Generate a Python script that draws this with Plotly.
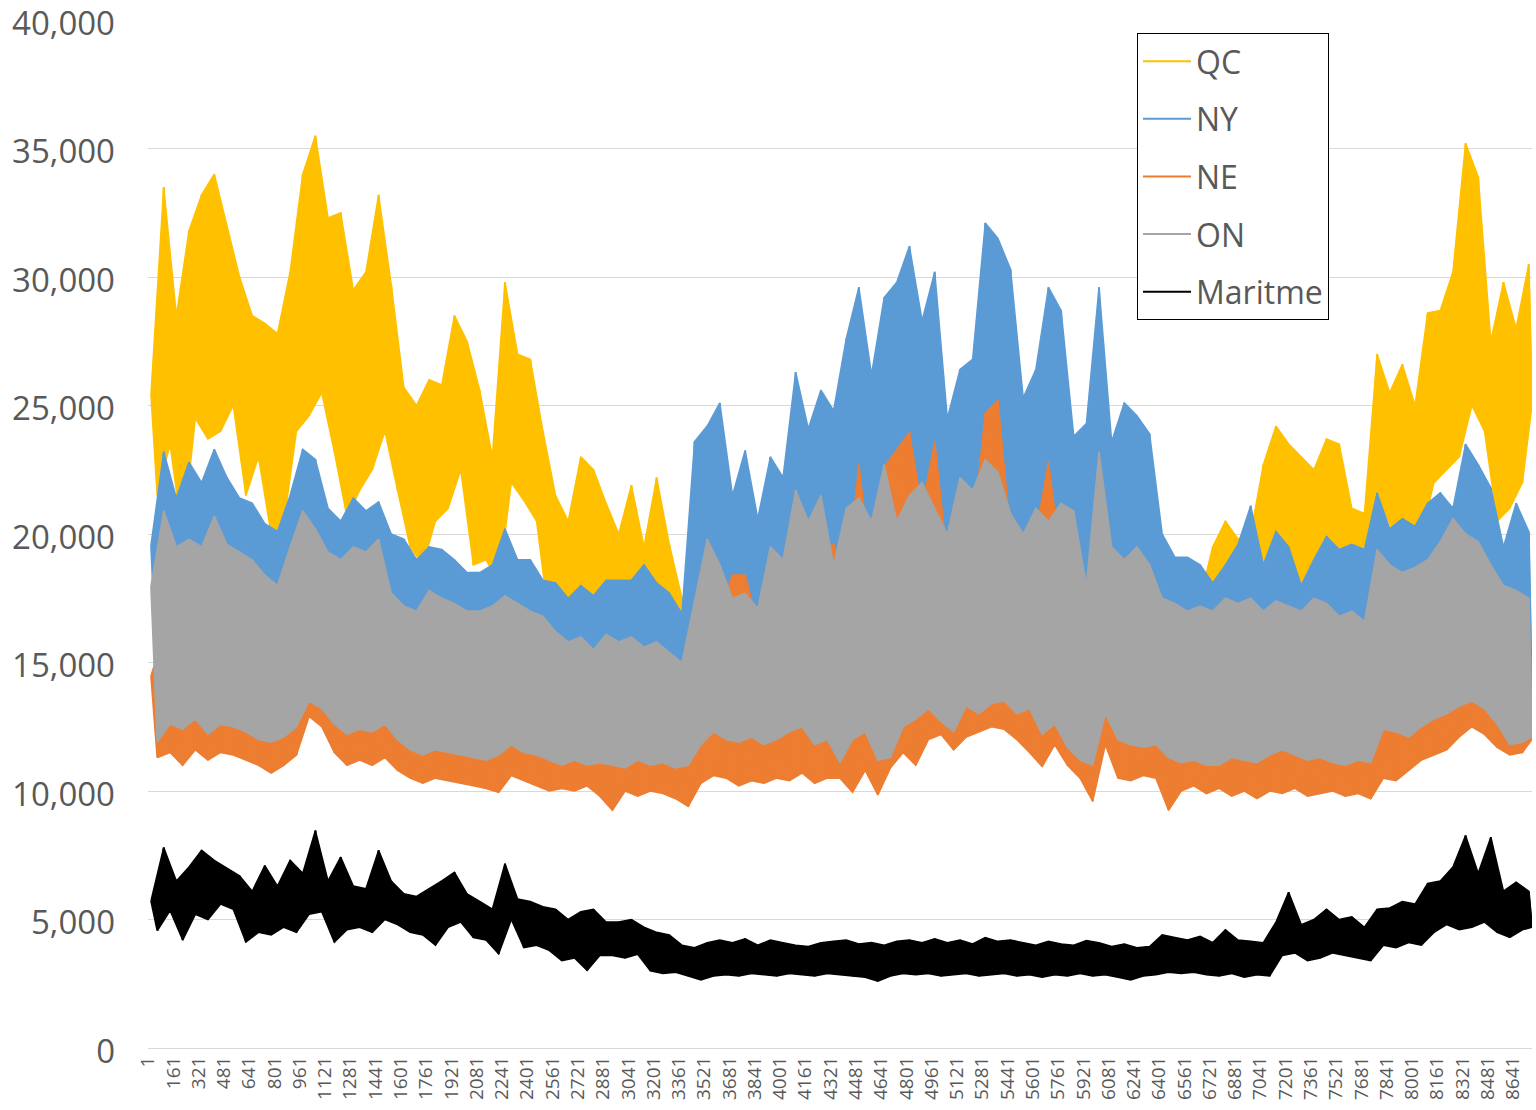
import plotly.graph_objects as go

# ---------------- data (80-hour blocks: block high / block low) ----------------
HOURS = 8760
BLOCK = 80

tick_labels = ["1", "161", "321", "481", "641", "801", "961", "1121", "1281", "1441", "1601", "1761",
               "1921", "2081", "2241", "2401", "2561", "2721", "2881", "3041", "3201", "3361", "3521",
               "3681", "3841", "4001", "4161", "4321", "4481", "4641", "4801", "4961", "5121", "5281",
               "5441", "5601", "5761", "5921", "6081", "6241", "6401", "6561", "6721", "6881", "7041",
               "7201", "7361", "7521", "7681", "7841", "8001", "8161", "8321", "8481", "8641"]
y_tick_vals = [0, 5000, 10000, 15000, 20000, 25000, 30000, 35000, 40000]

series_names = ["QC", "NY", "NE", "ON", "Maritme"]
series_colors = ["#FFC000", "#5B9BD5", "#ED7D31", "#A5A5A5", "#000000"]

QC_HI = [25500, 33500, 28500, 31800, 33200, 34000, 32000, 30000, 28500, 28200,
         27800, 30200, 34000, 35500, 32300, 32500, 29500, 30200, 33200, 29700,
         25700, 25000, 26000, 25800, 28500, 27500, 25600, 23000, 29800, 27000,
         26800, 24000, 21500, 20500, 23000, 22500, 21200, 20000, 21900, 19500,
         22200, 19600, 17500, 18000, 18500, 18300, 18000, 18200, 17800, 18000,
         18300, 18600, 18200, 18500, 18000, 18500, 19000, 18500, 19000, 19200,
         19500, 19300, 19000, 18800, 19200, 19000, 19500, 19300, 19000, 18800,
         18500, 19000, 18700, 18200, 18000, 19000, 18500, 18000, 18300, 18000,
         17500, 17800, 17600, 17500, 19500, 20500, 19800, 20000, 22700, 24200,
         23500, 23000, 22500, 23700, 23500, 21000, 20800, 27000, 25500, 26600,
         25000, 28600, 28700, 30200, 35200, 33900, 27500, 29800, 28000, 30500]
QC_LO = [21500, 23500, 19900, 24500, 23700, 24000, 25000, 21500, 23000, 20000,
         20400, 24000, 24600, 25500, 23200, 20650, 21700, 22500, 24000, 21700,
         19500, 18800, 20500, 21000, 22500, 18800, 19000, 18100, 22000, 21300,
         20500, 16600, 17500, 16500, 17500, 16100, 16500, 16000, 17000, 15500,
         17000, 15500, 15000, 14800, 15000, 14600, 14900, 15000, 14700, 14800,
         15100, 15300, 14900, 15000, 14500, 14600, 15200, 14700, 14500, 15000,
         15300, 15500, 15200, 15000, 15600, 15400, 15800, 15700, 15300, 15100,
         14800, 15000, 14500, 14400, 14300, 15200, 14800, 14600, 14500, 14700,
         14400, 14600, 14500, 14800, 15000, 15500, 16000, 16000, 17000, 18500,
         18000, 17500, 17500, 17800, 18000, 17500, 17400, 21000, 19800, 20500,
         20000, 22000, 22500, 23000, 25000, 24000, 20500, 21000, 22000, 25000]

NY_HI = [19600, 23200, 21400, 22800, 22000, 23300, 22200, 21400, 21200, 20400,
         20100, 21500, 23300, 22900, 21000, 20500, 21400, 20900, 21250, 20000,
         19800, 19000, 19500, 19400, 19000, 18500, 18500, 18800, 20200, 19000,
         19000, 18200, 18100, 17500, 18000, 17600, 18200, 18200, 18200, 18800,
         18100, 17700, 16900, 23600, 24200, 25100, 21500, 23250, 20600, 23000,
         22200, 26300, 24100, 25600, 24800, 27600, 29600, 26200, 29200, 29800,
         31200, 28300, 30200, 24500, 26400, 26800, 32100, 31500, 30300, 25300,
         26400, 29600, 28700, 23800, 24300, 29600, 23600, 25100, 24600, 23900,
         20000, 19100, 19100, 18800, 18100, 18800, 19600, 21100, 18800, 20100,
         19500, 18000, 19000, 19900, 19400, 19600, 19400, 21600, 20200, 20600,
         20300, 21200, 21600, 21000, 23500, 22700, 21800, 19500, 21200, 20100]
NY_LO = [14000, 14500, 14000, 14500, 14200, 14600, 14300, 14000, 13800, 13600,
         13800, 14200, 15000, 14800, 14200, 13800, 14000, 13900, 14200, 13300,
         13000, 12800, 13000, 12900, 12800, 12700, 12600, 12800, 13200, 12900,
         12800, 12600, 12400, 12500, 12300, 12400, 12300, 12200, 12500, 12300,
         12400, 12200, 12000, 13500, 14000, 13800, 13600, 13900, 13500, 13800,
         14000, 14300, 13600, 13800, 13000, 14000, 14500, 13200, 13500, 14500,
         15000, 15300, 14800, 14300, 15400, 15000, 15500, 15600, 15000, 15200,
         14200, 14800, 13800, 13000, 12800, 15000, 14000, 13700, 13600, 13800,
         13000, 12800, 12900, 12700, 12600, 12900, 12800, 12700, 13000, 13200,
         13000, 12800, 12900, 12700, 12600, 12800, 12700, 14000, 13900, 13700,
         14100, 14400, 14600, 15000, 15200, 14900, 14200, 13400, 13500, 13700]

NE_HI = [14500, 16000, 15000, 15200, 15000, 15800, 15200, 15000, 14700, 14500,
         14300, 15200, 16300, 16000, 15000, 14800, 15200, 15100, 15600, 14000,
         13800, 13600, 14000, 13800, 13700, 13500, 13500, 13700, 14000, 13800,
         13600, 13400, 13200, 13000, 13200, 12900, 13100, 13000, 13200, 13000,
         13100, 12900, 12800, 15500, 18800, 17000, 18400, 18400, 16500, 17400,
         17000, 18000, 17500, 19600, 19600, 18000, 22700, 18500, 22600, 23300,
         23950, 21000, 23600, 19000, 21000, 20000, 24700, 25200, 20000, 18500,
         20000, 22800, 19000, 18200, 17500, 22700, 17500, 19100, 17500, 17000,
         15000, 14500, 14500, 14300, 14200, 14600, 14400, 14500, 14300, 14600,
         14400, 14200, 14500, 14300, 14000, 14200, 13900, 15800, 15500, 15300,
         15500, 16000, 16500, 17000, 17000, 16800, 16000, 15300, 15200, 15000]
NE_LO = [11300, 11500, 11000, 11600, 11200, 11500, 11400, 11200, 11000, 10700,
         11000, 11400, 12900, 12500, 11500, 11000, 11200, 11000, 11300, 10800,
         10500, 10300, 10500, 10400, 10300, 10200, 10100, 9950, 10600, 10400,
         10200, 10000, 10100, 10000, 10200, 9800, 9250, 10000, 9800, 10000,
         9900, 9700, 9400, 10300, 10600, 10500, 10200, 10400, 10300, 10500,
         10400, 10700, 10300, 10500, 10500, 9950, 10800, 9850, 10900, 11500,
         11000, 12000, 12200, 11600, 12100, 12300, 12500, 12400, 12000, 11500,
         10950, 11800, 11000, 10500, 9600, 11800, 10500, 10400, 10600, 10500,
         9250, 10000, 10200, 9900, 10100, 9800, 10000, 9700, 10000, 9900,
         10100, 9800, 9900, 10000, 9800, 9900, 9700, 10500, 10400, 10800,
         11200, 11400, 11600, 12100, 12500, 12200, 11700, 11400, 11500, 12000]

ON_HI = [18000, 20900, 19500, 19800, 19500, 20700, 19600, 19300, 19000, 18400,
         18000, 19500, 20900, 20200, 19300, 19000, 19500, 19300, 19800, 17700,
         17200, 17000, 17800, 17500, 17300, 17000, 17000, 17200, 17600, 17300,
         17000, 16800, 16200, 15800, 16000, 15500, 16100, 15800, 16000, 15600,
         15800, 15400, 15000, 17400, 19800, 18800, 17500, 17700, 17100, 19500,
         19000, 21700, 20500, 21500, 18800, 21000, 21400, 20500, 22700, 20500,
         21500, 22000, 21000, 20000, 22200, 21700, 22900, 22400, 20800, 20000,
         21000, 20500, 21200, 20900, 18000, 23200, 19500, 19000, 19500, 18800,
         17500, 17300, 17000, 17200, 17000, 17500, 17300, 17500, 17000, 17400,
         17200, 17000, 17500, 17300, 16800, 17000, 16600, 19400, 18800, 18500,
         18700, 19000, 19700, 20600, 20000, 19700, 18800, 18000, 17800, 17500]
ON_LO = [11900, 12600, 12400, 12800, 12200, 12600, 12500, 12300, 12000, 11900,
         12100, 12500, 13500, 13200, 12600, 12200, 12400, 12300, 12600, 12000,
         11600, 11400, 11600, 11500, 11400, 11300, 11200, 11400, 11800, 11500,
         11400, 11200, 11000, 11200, 11000, 11100, 11000, 10900, 11200, 11000,
         11100, 10900, 11000, 11800, 12300, 12000, 11900, 12100, 11800, 12000,
         12300, 12500, 11800, 12000, 11100, 12000, 12300, 11200, 11300, 12500,
         12800, 13200, 12700, 12300, 13300, 13000, 13400, 13500, 13000, 13200,
         12200, 12600, 11700, 11200, 11000, 13000, 12000, 11800, 11700, 11800,
         11300, 11100, 11200, 11000, 11000, 11300, 11200, 11100, 11400, 11600,
         11400, 11200, 11300, 11100, 11000, 11200, 11100, 12400, 12300, 12100,
         12500, 12800, 13000, 13300, 13500, 13200, 12600, 11800, 11900, 12100]

MAR_HI = [5740, 7800, 6500, 7040, 7690, 7300, 7000, 6700, 6100, 7100,
          6300, 7300, 6800, 8460, 6500, 7430, 6300, 6200, 7690, 6500,
          6000, 5900, 6200, 6500, 6840, 6000, 5700, 5400, 7170, 5800,
          5700, 5500, 5400, 5000, 5300, 5400, 4900, 4900, 5000, 4700,
          4500, 4400, 4000, 3900, 4100, 4200, 4100, 4250, 4000, 4200,
          4100, 4000, 3950, 4100, 4150, 4200, 4050, 4100, 4000, 4150,
          4200, 4100, 4250, 4100, 4200, 4050, 4300, 4150, 4200, 4100,
          4000, 4150, 4050, 4000, 4180, 4100, 3950, 4050, 3900, 3950,
          4400, 4300, 4200, 4350, 4100, 4600, 4200, 4150, 4100, 4900,
          6060, 4800, 5000, 5400, 5000, 5100, 4700, 5400, 5450, 5700,
          5600, 6400, 6500, 7040, 8270, 6800, 8200, 6100, 6450, 6100]
MAR_LO = [4570, 5350, 4200, 5200, 5000, 5600, 5400, 4120, 4500, 4400,
          4700, 4500, 5200, 5300, 4120, 4600, 4700, 4500, 5000, 4800,
          4500, 4400, 4000, 4700, 4900, 4300, 4200, 3660, 5000, 3900,
          4000, 3800, 3400, 3500, 3020, 3600, 3600, 3500, 3650, 3000,
          2900, 2950, 2800, 2650, 2800, 2850, 2800, 2900, 2850, 2800,
          2900, 2850, 2800, 2900, 2850, 2800, 2750, 2600, 2800, 2900,
          2850, 2900, 2800, 2850, 2900, 2800, 2850, 2900, 2800, 2850,
          2750, 2850, 2800, 2900, 2800, 2850, 2750, 2650, 2800, 2850,
          2950, 2900, 2950, 2850, 2800, 2900, 2750, 2850, 2800, 3600,
          3700, 3400, 3500, 3700, 3600, 3500, 3400, 4000, 3900, 4100,
          4000, 4500, 4800, 4600, 4700, 4900, 4500, 4300, 4600, 4700]

series_hi = [QC_HI, NY_HI, NE_HI, ON_HI, MAR_HI]
series_lo = [QC_LO, NY_LO, NE_LO, ON_LO, MAR_LO]

for n, h, l in zip(series_names, series_hi, series_lo):
    if len(h) != 110 or len(l) != 110:
        raise ValueError(f"{n}: {len(h)} / {len(l)}")


def hi_positions(n):
    return [i * BLOCK + 20 for i in range(n)]


def lo_positions(n):
    return [min(i * BLOCK + 60, HOURS) for i in range(n)]


fig = go.Figure()
for k, (name, color, hi, lo) in enumerate(zip(series_names, series_colors, series_hi, series_lo)):
    xh, xl = hi_positions(len(hi)), lo_positions(len(lo))
    # band between the block highs and block lows
    fig.add_trace(go.Scatter(x=xh + xl[::-1], y=hi + lo[::-1], mode="lines", fill="toself",
                             fillcolor=color, line=dict(color=color, width=1.5),
                             showlegend=False, hoverinfo="skip", legendgroup=f"g{k}"))
    # hourly swing between block highs and lows (also the legend entry)
    xs, ys = [], []
    for a, b, h, l in zip(xh, xl, hi, lo):
        xs += [a, b]
        ys += [h, l]
    fig.add_trace(go.Scatter(x=xs, y=ys, mode="lines", name=name, legendgroup=f"g{k}",
                             line=dict(color=color, width=2)))

tick_vals = [int(t) for t in tick_labels]

fig.update_layout(
    width=1536, height=1110,
    margin=dict(l=148, r=4, t=20, b=62, autoexpand=False),
    paper_bgcolor="white", plot_bgcolor="white",
    font=dict(family="Open Sans", color="#595959"),
    showlegend=True,
    legend=dict(x=0.7146, y=0.9874, xanchor="left", yanchor="top",
                bordercolor="#000000", borderwidth=1, bgcolor="white",
                font=dict(size=32, color="#595959"), tracegroupgap=13,
                traceorder="grouped", itemwidth=48),
    xaxis=dict(range=[0.5, HOURS + 0.5], tickmode="array", tickvals=tick_vals, ticktext=tick_labels,
               tickangle=-90, tickfont=dict(size=19, color="#595959"), showgrid=False,
               showline=True, linecolor="#D9D9D9", linewidth=1, zeroline=False, ticks="",
               automargin=False, ticklabeloverflow="allow"),
    yaxis=dict(range=[0, 40000], tickmode="array", tickvals=y_tick_vals,
               tickformat=",", gridcolor="#D9D9D9", gridwidth=1,
               tickfont=dict(size=33, color="#595959"), zeroline=False, showline=False,
               ticklabelstandoff=32, ticklabelshift=3, automargin=False, ticklabeloverflow="allow"),
)

# remove the browser's default 8px page margin so the figure sits at the window's top-left corner
fig.write_html("out.html", config={"displayModeBar": False},
               post_script="document.body.style.margin='0px';")
